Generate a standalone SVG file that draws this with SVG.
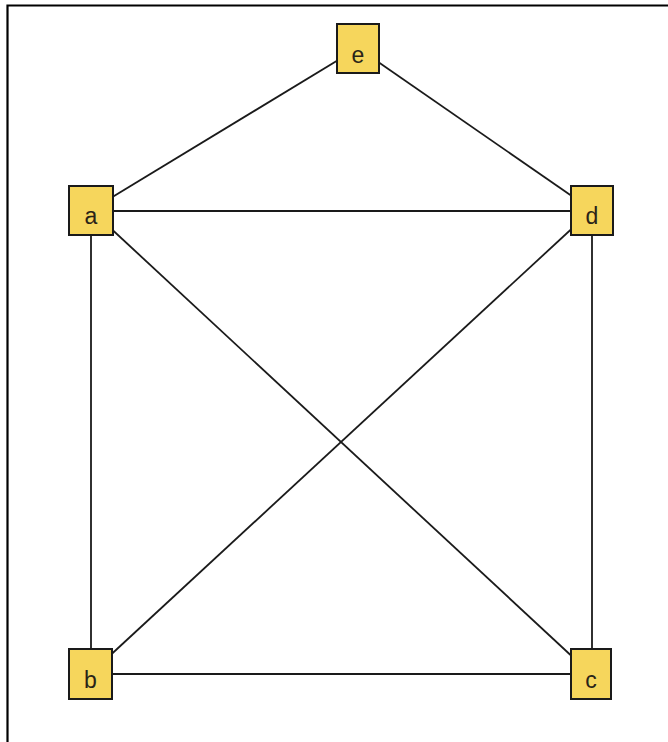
<svg xmlns="http://www.w3.org/2000/svg" width="668" height="742" viewBox="0 0 668 742">
  <style>
    .edge { stroke: #1a1a1a; stroke-width: 1.8; fill: none; }
    .box { fill: #f6d65c; stroke: #1a1a1a; stroke-width: 2; }
    .lbl { font-family: "Liberation Sans", Arial, sans-serif; font-size: 23px; fill: #2a2418; text-anchor: middle; }
  </style>
  <rect x="0" y="0" width="668" height="742" fill="#ffffff"/>
  <path d="M7.5,742 V5.5 H668" fill="none" stroke="#000" stroke-width="2.2"/>
  <g id="connectors">
    <line class="edge" x1="91" y1="210" x2="358" y2="48"/>
    <line class="edge" x1="358" y1="48" x2="592" y2="210"/>
    <line class="edge" x1="91" y1="211" x2="592" y2="211"/>
    <line class="edge" x1="91" y1="210" x2="91" y2="674"/>
    <line class="edge" x1="592" y1="210" x2="592" y2="674"/>
    <line class="edge" x1="90" y1="674" x2="591" y2="674"/>
    <line class="edge" x1="91" y1="210" x2="591" y2="674"/>
    <line class="edge" x1="592" y1="210" x2="90" y2="674"/>
  </g>
  <g id="node-e">
    <rect class="box" x="337" y="24" width="42" height="49"/>
    <text class="lbl" x="358" y="63">e</text>
  </g>
  <g id="node-a">
    <rect class="box" x="69" y="186" width="44" height="49"/>
    <text class="lbl" x="91" y="224">a</text>
  </g>
  <g id="node-d">
    <rect class="box" x="571" y="186" width="42" height="49"/>
    <text class="lbl" x="592" y="224">d</text>
  </g>
  <g id="node-b">
    <rect class="box" x="69" y="649" width="43" height="50"/>
    <text class="lbl" x="90.5" y="688">b</text>
  </g>
  <g id="node-c">
    <rect class="box" x="571" y="649" width="40" height="50"/>
    <text class="lbl" x="591" y="688">c</text>
  </g>
</svg>
